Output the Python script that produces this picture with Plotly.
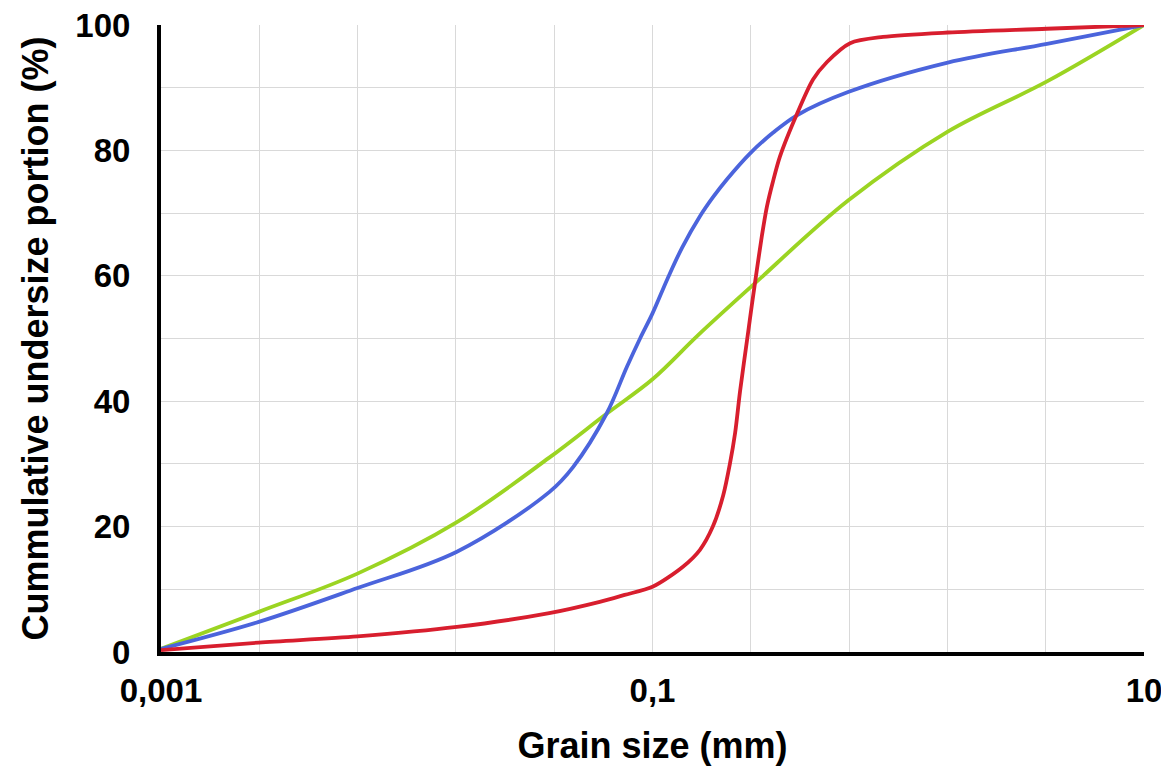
import plotly.graph_objects as go

# grain size (mm) / cumulative undersize (%)
green_size = [0.001, 0.0025, 0.0063, 0.016, 0.038, 0.065, 0.1, 0.153, 0.256, 0.625, 1.59, 4.03, 10]
green_pct = [0.5, 6.4, 12.5, 20.7, 31, 38, 43.5, 50.5, 58.5, 72, 83, 91, 100]

blue_size = [0.001, 0.0025, 0.0063, 0.016, 0.038, 0.0475, 0.065, 0.0787, 0.089, 0.1,
             0.115, 0.132, 0.156, 0.176, 0.201, 0.249, 0.309, 0.387, 0.625, 1.59, 4.03, 10]
blue_pct = [0.5, 4.8, 10.2, 16, 25.5, 29.5, 38, 45.5, 50, 54,
            59.5, 64.5, 69.5, 72.5, 75.4, 79.5, 82.8, 85.6, 89.3, 94, 97, 100]

red_size = [0.001, 0.0025, 0.0063, 0.016, 0.038, 0.061, 0.077, 0.1, 0.133, 0.156,
            0.176, 0.194, 0.2065, 0.217, 0.227, 0.245, 0.254, 0.266, 0.279, 0.292,
            0.309, 0.33, 0.387, 0.45, 0.513, 0.637, 0.867, 1.59, 4.03, 10]
red_pct = [0.3, 1.5, 2.5, 4, 6.2, 8, 9.1, 10.4, 13.6, 16.3,
           20, 25, 30, 35, 41.5, 51, 55.5, 61, 66.5, 71,
           75, 79, 85.8, 91.3, 94.1, 97.1, 98.1, 98.8, 99.4, 100]

# x grid: 10 even divisions over 4 decades, labels only at three of them
x_ticks = [10 ** (-3 + 0.4 * k) for k in range(11)]
x_labels = ["0,001", "", "", "", "", "0,1", "", "", "", "", "10"]
y_ticks = list(range(0, 101, 10))
y_labels = [str(v) if v % 20 == 0 else "" for v in y_ticks]

FONT = "Liberation Sans, Arial, sans-serif"

fig = go.Figure()
for size, pct, color, smooth in [
    (green_size, green_pct, "#9bd422", 1.0),
    (blue_size, blue_pct, "#4b64dc", 1.0),
    (red_size, red_pct, "#d81e2e", 0.8),
]:
    fig.add_trace(go.Scatter(
        x=size, y=pct, mode="lines",
        line=dict(color=color, width=3.8, shape="spline", smoothing=smooth),
        showlegend=False,
    ))

fig.update_xaxes(
    type="log", range=[-3, 1], automargin=False,
    tickmode="array", tickvals=x_ticks, ticktext=x_labels,
    showgrid=True, gridcolor="#d9d9d9", gridwidth=1,
    showline=True, linecolor="black", linewidth=4,
    ticks="", ticklabelstandoff=6, ticklabeloverflow="allow",
    tickfont=dict(family=FONT, size=33, color="black", weight="bold"),
    title=dict(text="<b>Grain size (mm)</b>", standoff=31,
               font=dict(family=FONT, size=36, color="black")),
    zeroline=False,
)
fig.update_yaxes(
    range=[0, 100], automargin=False,
    tickmode="array", tickvals=y_ticks, ticktext=y_labels,
    showgrid=True, gridcolor="#d9d9d9", gridwidth=1,
    showline=True, linecolor="black", linewidth=4,
    ticks="", ticklabelstandoff=20, ticklabeloverflow="allow",
    tickfont=dict(family=FONT, size=33, color="black", weight="bold"),
    title=dict(text="<b>Cummulative undersize portion (%)</b>", standoff=17,
               font=dict(family=FONT, size=36, color="black")),
    zeroline=False,
)
# the page body adds an 8 px offset, so the figure is 16 px smaller
fig.update_layout(
    width=1161, height=758,
    margin=dict(l=153, r=25, t=17, b=114),
    plot_bgcolor="white", paper_bgcolor="white",
)

fig.write_html("out.html")
